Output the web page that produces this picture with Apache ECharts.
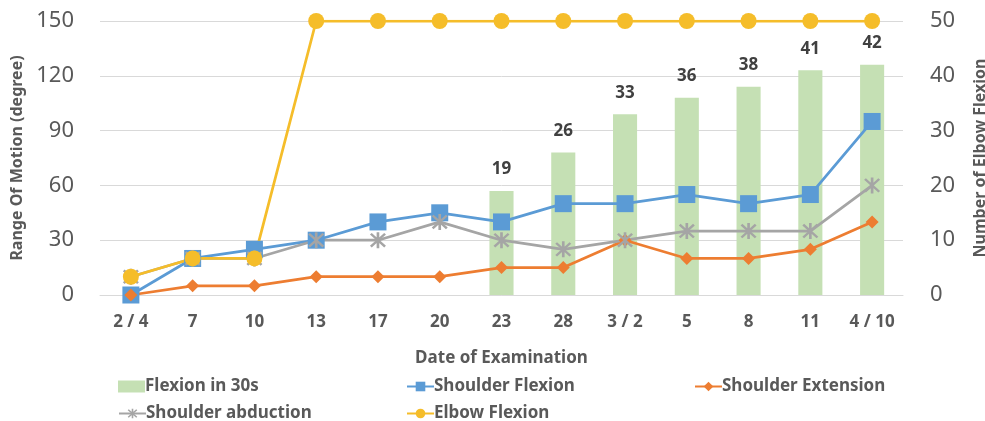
<!DOCTYPE html>
<html>
<head>
<meta charset="utf-8">
<script src="https://cdn.jsdelivr.net/npm/echarts@6/dist/echarts.min.js"></script>
<style>
  html, body { margin: 0; padding: 0; background: #fff; }
  #chart { width: 985px; height: 421px; }
</style>
</head>
<body>
<div id="chart"></div>
<script>
// Examination dates
const dates = ['2 / 4', '7', '10', '13', '17', '20', '23', '28', '3 / 2', '5', '8', '11', '4 / 10'];

// Repetitions in 30 seconds (right axis)
const flexionIn30s = [null, null, null, null, null, null, 19, 26, 33, 36, 38, 41, 42];

// Range of motion in degrees (left axis)
const shoulderFlexion   = [0, 20, 25, 30, 40, 45, 40, 50, 50, 55, 50, 55, 95];
const shoulderExtension = [0, 5, 5, 10, 10, 10, 15, 15, 30, 20, 20, 25, 40];
const shoulderAbduction = [10, 20, 20, 30, 30, 40, 30, 25, 30, 35, 35, 35, 60];
const elbowFlexion      = [10, 20, 20, 150, 150, 150, 150, 150, 150, 150, 150, 150, 150];

const FONT = '"Noto Sans", "Open Sans", sans-serif';
const TXT = '#595959';

// asterisk marker: vertical bar plus two diagonals
const asterisk = 'path://M8.5 0L11.5 0L11.5 20L8.5 20Z M1 3L3 1L19 17L17 19Z M17 1L19 3L3 19L1 17Z';

const chart = echarts.init(document.getElementById('chart'), null, { renderer: 'canvas' });

function legendAt(name, left, top, icon) {
  const lg = {
    data: [name], left: left, top: top, itemWidth: 27, itemHeight: 12, itemGap: 0,
    textStyle: { fontFamily: FONT, fontSize: 17, fontWeight: 'bold', color: TXT, padding: [0, 0, 0, -5] }
  };
  if (icon) lg.icon = icon;
  return lg;
}

chart.setOption({
  animation: false,
  textStyle: { fontFamily: FONT },
  grid: { left: 100, right: 82, top: 21, bottom: 126, outerBoundsMode: 'none', containLabel: false },
  legend: [
    legendAt('Flexion in 30s', 113, 373, 'rect'),
    legendAt('Shoulder Flexion', 401, 373),
    legendAt('Shoulder Extension', 689, 373),
    legendAt('Shoulder abduction', 113, 400),
    legendAt('Elbow Flexion', 401, 400)
  ],
  xAxis: {
    type: 'category',
    data: dates,
    name: 'Date of Examination',
    nameLocation: 'middle',
    nameGap: 55,
    nameTextStyle: { fontFamily: FONT, fontSize: 17, fontWeight: 'bold', color: TXT },
    axisLine: { lineStyle: { color: '#d9d9d9' } },
    axisTick: { show: false },
    axisLabel: { fontFamily: FONT, fontSize: 17, fontWeight: 'bold', color: TXT, margin: 19, interval: 0 }
  },
  yAxis: [
    {
      type: 'value', min: 0, max: 150, interval: 30,
      name: 'Range Of Motion (degree)',
      nameLocation: 'middle', nameGap: 74, nameRotate: 90,
      nameTextStyle: { fontFamily: FONT, fontSize: 16, fontWeight: 'bold', color: TXT },
      axisLabel: { fontFamily: FONT, fontSize: 22, color: TXT, margin: 26 },
      splitLine: { lineStyle: { color: '#d9d9d9' } },
      axisLine: { show: false }, axisTick: { show: false }
    },
    {
      type: 'value', min: 0, max: 50, interval: 10,
      name: 'Number of Elbow Flexion',
      nameLocation: 'middle', nameGap: 69, nameRotate: 90,
      nameTextStyle: { fontFamily: FONT, fontSize: 16, fontWeight: 'bold', color: TXT },
      axisLabel: { fontFamily: FONT, fontSize: 22, color: TXT, margin: 27 },
      splitLine: { show: false },
      axisLine: { show: false }, axisTick: { show: false }
    }
  ],
  series: [
    {
      name: 'Flexion in 30s', type: 'bar', yAxisIndex: 1, data: flexionIn30s,
      barWidth: '39%',
      itemStyle: { color: '#c5e0b4' },
      label: { show: true, position: 'top', distance: 13, fontFamily: FONT, fontSize: 17, fontWeight: 'bold', color: '#404040' }
    },
    {
      name: 'Shoulder Flexion', type: 'line', data: shoulderFlexion,
      symbol: 'rect', symbolSize: 17,
      lineStyle: { width: 2.75, color: '#5b9bd5' }, itemStyle: { color: '#5b9bd5' }
    },
    {
      name: 'Shoulder Extension', type: 'line', data: shoulderExtension,
      symbol: 'diamond', symbolSize: 13,
      lineStyle: { width: 2.75, color: '#ed7d31' }, itemStyle: { color: '#ed7d31' }
    },
    {
      name: 'Shoulder abduction', type: 'line', data: shoulderAbduction,
      symbol: asterisk, symbolSize: 16,
      lineStyle: { width: 2.75, color: '#a5a5a5' }, itemStyle: { color: '#a5a5a5' }
    },
    {
      name: 'Elbow Flexion', type: 'line', data: elbowFlexion,
      symbol: 'circle', symbolSize: 16,
      lineStyle: { width: 2.75, color: '#f5bd2a' }, itemStyle: { color: '#f5bd2a' }
    }
  ]
});
</script>
</body>
</html>
